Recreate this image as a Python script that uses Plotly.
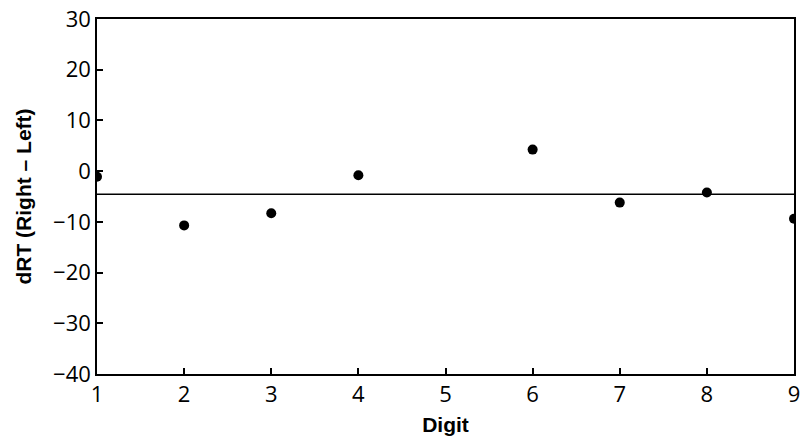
import plotly.graph_objects as go

digits = [1, 2, 3, 4, 6, 7, 8, 9]
drt = [-1.1, -10.7, -8.3, -0.8, 4.25, -6.2, -4.2, -9.4]
mean_drt = sum(drt) / len(drt)
x_range = [1, 9]
y_range = [-40, 30]
y_ticks = [-40, -30, -20, -10, 0, 10, 20, 30]
x_ticks = [1, 2, 3, 4, 5, 6, 7, 8, 9]

fig = go.Figure()
fig.add_trace(go.Scatter(
    x=x_range, y=[mean_drt, mean_drt], mode="lines",
    line=dict(color="black", width=1.5), showlegend=False, hoverinfo="skip"))
fig.add_trace(go.Scatter(
    x=digits, y=drt, mode="markers",
    marker=dict(color="black", size=10), showlegend=False, cliponaxis=True))

tickfont = dict(family="Open Sans, Liberation Sans, sans-serif", size=22, color="black")
titlefont = dict(family="Liberation Sans, Arial, sans-serif", size=21, color="black", weight="bold")

fig.update_layout(
    width=803, height=436,
    margin=dict(l=97, r=3, t=16, b=62),
    paper_bgcolor="white", plot_bgcolor="white",
    xaxis=dict(range=x_range, tickvals=x_ticks, ticks="inside", ticklen=6,
               tickwidth=1.5, tickcolor="black", showline=True, linecolor="black",
               linewidth=1.5, mirror=True, showgrid=False, zeroline=False,
               tickfont=tickfont, ticklabeloverflow="allow",
               title=dict(text="Digit", font=titlefont, standoff=10)),
    yaxis=dict(range=y_range, tickvals=y_ticks, ticks="inside", ticklen=6,
               tickwidth=1.5, tickcolor="black", showline=True, linecolor="black",
               linewidth=1.5, mirror=True, showgrid=False, zeroline=False,
               tickfont=tickfont, tickformat="d", ticklabeloverflow="allow",
               title=dict(text="dRT (Right \u2013 Left)", font=titlefont, standoff=16)),
)
fig.write_html("out.html")
